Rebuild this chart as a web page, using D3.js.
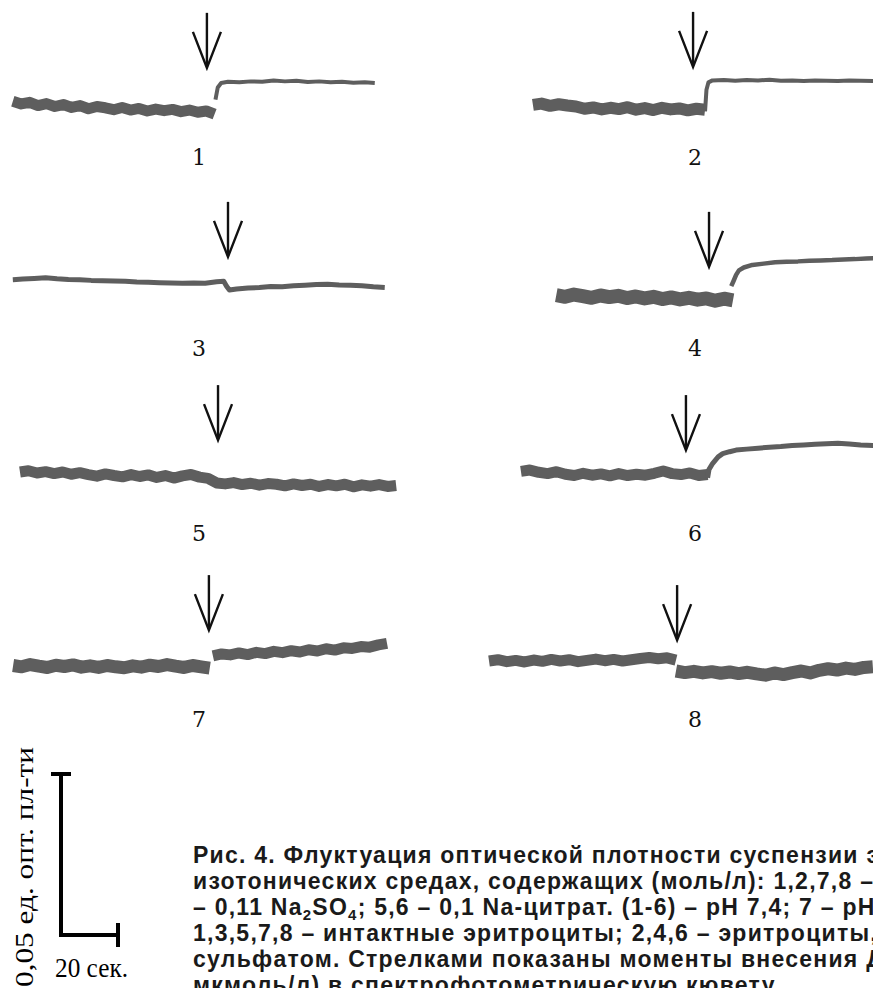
<!DOCTYPE html>
<html>
<head>
<meta charset="utf-8">
<script src="https://cdn.jsdelivr.net/npm/d3@7/dist/d3.min.js"></script>
<style>
  body { margin: 0; background: #fff; }
  svg { display: block; }
</style>
</head>
<body>
<div id="fig"></div>
<script>
// Рис. 4 - optical density traces, 8 panels + scale bar + caption

const width = 873,
    height = 988;

// time in s, optical density in units of 0.001
// noisy parts: start time, step, values
// smooth parts: [time, value] pairs
const tr1Before = {t0: 4.5, dt: 2.95, v: [8.9, 8.1, 8.6, 7.6, 8.2, 7.3, 7.9, 7.0, 7.6, 6.6, 7.3, 6.9, 6.3, 7.0, 6.2, 6.7, 5.9, 6.5, 6.0, 6.4, 5.7, 6.2, 5.5, 5.9, 4.9]};
const tr1After = [[75.6, 9.4], [76.4, 13.2], [77.6, 14.6], [80, 15.0], [84, 14.8], [88, 15.1], [92, 15.0], [96, 15.4], [100, 15.1], [104, 15.3], [108, 14.9], [112, 15.1], [116, 14.8], [120, 15.0], [124, 14.7], [128, 14.8], [131.5, 14.6]];

const tr2Before = {t0: 34, dt: 3.02, v: [7.8, 8.2, 7.5, 8.0, 7.6, 7.3, 6.6, 7.0, 6.4, 6.9, 6.5, 7.1, 6.3, 6.8, 6.2, 6.9, 6.4, 6.7, 6.1, 6.6, 6.3]};
const tr2After = [[94.4, 5.8], [94.9, 12.5], [95.6, 14.8], [97, 15.4], [101, 15.5], [105, 15.3], [109, 15.5], [113, 15.4], [117, 15.6], [121, 15.3], [125, 15.4], [129, 15.2], [133, 15.4], [137, 15.3], [141, 15.2], [145, 15.4], [149, 15.3], [153.5, 15.2]];

const tr3 = [[4.5, 9.4], [8, 9.6], [12, 9.8], [16, 10.0], [20, 9.7], [24, 9.5], [28, 9.4], [32, 9.2], [36, 9.1], [40, 9.0], [44, 8.9], [48, 8.7], [52, 8.6], [56, 8.5], [60, 8.4], [64, 8.3], [68, 8.4], [72, 8.3], [76, 8.8], [78.5, 8.9], [79.5, 7.4], [80.5, 6.2], [83, 6.5], [87, 6.8], [91, 7.0], [95, 7.3], [99, 7.2], [103, 7.5], [107, 7.7], [111, 7.9], [115, 8.0], [119, 7.8], [123, 7.7], [127, 7.5], [131, 7.2], [135, 7.0]];

const tr4Before = {t0: 42.2, dt: 3.1, v: [4.6, 4.1, 4.8, 4.3, 3.8, 4.5, 4.0, 4.4, 3.7, 4.2, 3.6, 4.1, 3.4, 3.9, 3.3, 3.8, 3.2, 3.6, 2.9, 3.5, 3.0]};
const tr4After = [[103.6, 7.4], [104.4, 9.0], [105.3, 10.9], [106.3, 12.3], [108, 13.2], [111, 14.0], [115, 14.4], [119, 14.8], [123, 15.0], [127, 15.1], [131, 15.3], [135, 15.4], [139, 15.5], [143, 15.7], [147, 15.8], [151, 16.0], [153.5, 16.1]];

const tr5 = {t0: 7, dt: 3, v: [8.7, 9.1, 8.4, 8.8, 8.2, 8.7, 8.0, 8.5, 7.9, 7.4, 8.1, 7.6, 7.2, 7.9, 7.3, 7.8, 7.0, 7.6, 6.8, 7.5, 7.9, 7.1, 6.7,
  5.3, 5.0, 5.4, 4.8, 5.2, 4.6, 5.1, 4.9, 4.4, 5.0, 4.5, 4.9, 4.2, 4.8, 4.4, 4.9, 4.1, 4.7, 4.3, 4.8, 4.2, 4.5]};

const tr6Before = {t0: 29.8, dt: 3.12, v: [8.9, 9.3, 8.6, 8.2, 8.8, 8.0, 7.6, 8.3, 7.7, 8.1, 7.5, 8.2, 7.6, 8.0, 7.7, 8.3, 9.0, 8.2, 7.9, 8.4, 7.6, 7.9]};
const tr6After = [[95.3, 6.9], [95.8, 9.5], [97.1, 11.4], [99, 13.4], [100.6, 14.4], [103, 15.0], [105.3, 15.5], [109, 15.8], [113, 16.1], [117, 16.4], [121, 16.6], [125, 16.9], [129, 17.1], [133, 17.3], [137, 17.5], [141, 17.6], [145, 17.4], [149, 17.1], [153.5, 16.9]];

const tr7Before = {t0: 4.6, dt: 3, v: [7.6, 7.2, 7.9, 7.4, 7.0, 7.7, 7.3, 7.8, 7.1, 7.5, 7.0, 7.6, 7.2, 6.9, 7.5, 7.1, 7.7, 7.3, 7.9, 7.4, 7.0, 7.6, 7.2, 6.8]};
const tr7After = {t0: 74.7, dt: 3.055, v: [10.6, 11.2, 10.9, 11.5, 11.0, 11.7, 11.3, 12.0, 11.6, 12.2, 11.8, 12.5, 12.1, 12.8, 12.4, 13.1, 12.9, 13.5, 13.3, 14.0, 14.5]};

const tr8Before = {t0: 18.6, dt: 3.124, v: [9.0, 9.4, 8.8, 9.2, 8.7, 9.3, 8.9, 9.5, 9.0, 9.4, 8.8, 9.2, 9.6, 9.1, 9.5, 9.0, 9.4, 9.8, 10.1, 9.7, 10.0, 9.3]};
const tr8After = {t0: 84.2, dt: 3.14, v: [5.9, 5.4, 5.8, 5.3, 5.7, 5.2, 5.6, 5.1, 5.5, 5.0, 4.6, 5.3, 4.8, 5.4, 5.9, 5.3, 6.1, 6.6, 6.2, 6.8, 6.4, 7.0, 7.2]};

const panelLabels = ["1", "2", "3", "4", "5", "6", "7", "8"];
// moments of DIDS addition, s
const arrowTimes = [72.6, 90.2, 80.0, 95.8, 76.5, 87.7, 73.3, 84.6];

// scale bar: 0.05 opt. density, 20 s
const barOD = 50,
    barTime = 20;

const traces = [
  [tr1Before, tr1After],
  [tr2Before, tr2After],
  [tr3],
  [tr4Before, tr4After],
  [tr5],
  [tr6Before, tr6After],
  [tr7Before, tr7After],
  [tr8Before, tr8After]
];

// --- layout / styles
const traceWidths = [[11, 4], [12, 4], [5], [14, 4.5], [11], [11, 5], [13, 11], [11, 13]];
const rowBase = [130, 310, 500, 690];
const colX = [0, 436];
const labelX = [199, 259];
const labelY = [165, 356, 541, 727];
const arrowTip = [19.3, 19.6, 16.5, 13.4, 18.6, 15.5, 18.6, 15.5];
const traceColor = "#5e5e5e";

// 20 s = 57 px, 0.05 = 161 px
const x = d3.scaleLinear().domain([0, 20]).range([0, 57]);
const y = d3.scaleLinear().domain([0, 50]).range([0, -161]);

const line = d3.line()
  .x(d => x(d[0]))
  .y(d => y(d[1]));

const toPoints = seg => Array.isArray(seg) ? seg : seg.v.map((v, i) => [seg.t0 + i * seg.dt, v]);

let svg = d3.select("#fig")
  .append("svg")
    .attr("width", width)
    .attr("height", height)
    .style("background", "#fff");

panelLabels.forEach((lab, i) => {
  const col = i % 2, row = Math.floor(i / 2);
  let g = svg.append("g")
    .attr("transform", `translate(${colX[col]}, ${rowBase[row]})`);

  traces[i].forEach((seg, k) => {
    g.append("path")
      .attr("d", line(toPoints(seg)))
      .attr("fill", "none")
      .attr("stroke", traceColor)
      .attr("stroke-width", traceWidths[i][k])
      .attr("stroke-linejoin", "round")
      .attr("stroke-linecap", "butt");
  });

  // arrow
  const ax = x(arrowTimes[i]), tip = y(arrowTip[i]);
  g.append("line")
    .attr("x1", ax).attr("x2", ax)
    .attr("y1", tip - 55).attr("y2", tip - 2)
    .attr("stroke", "#111")
    .attr("stroke-width", 2.4);
  g.append("path")
    .attr("d", `M${ax - 14},${tip - 36} L${ax},${tip} L${ax + 14},${tip - 36}`)
    .attr("fill", "none")
    .attr("stroke", "#111")
    .attr("stroke-width", 2.4)
    .attr("stroke-miterlimit", 20);

  svg.append("text")
    .attr("x", colX[col] + labelX[col])
    .attr("y", labelY[row])
    .attr("text-anchor", "middle")
    .style("font-family", "'DejaVu Serif', serif")
    .style("font-size", "22px")
    .attr("fill", "#111")
    .text(lab);
});

// scale bar
const bx = 61, by = 935;
let bar = svg.append("g").attr("stroke", "#000").attr("stroke-width", 4).attr("fill", "none");
bar.append("path")
  .attr("d", `M${bx},${by + y(barOD)} L${bx},${by} L${bx + x(barTime)},${by}`)
  .attr("stroke-linejoin", "miter");
bar.append("line")
  .attr("x1", bx - 10).attr("x2", bx + 10)
  .attr("y1", by + y(barOD)).attr("y2", by + y(barOD));
bar.append("line")
  .attr("x1", bx + x(barTime)).attr("x2", bx + x(barTime))
  .attr("y1", by - 12).attr("y2", by + 12);

svg.append("text")
  .attr("transform", "translate(33, 867) rotate(-90)")
  .attr("text-anchor", "middle")
  .attr("textLength", 240)
  .attr("lengthAdjust", "spacingAndGlyphs")
  .style("font-family", "'Liberation Serif', serif")
  .style("font-size", "25px")
  .text("0,05 ед. опт. пл-ти");

svg.append("text")
  .attr("x", 55)
  .attr("y", 977)
  .attr("textLength", 73)
  .attr("lengthAdjust", "spacingAndGlyphs")
  .style("font-family", "'Liberation Serif', serif")
  .style("font-size", "27px")
  .text("20 сек.");

// caption (clipped by the right and bottom edge, as in the source)
const captionLines = [
  ["Рис. 4. Флуктуация оптической плотности суспензии эритроцитов в"],
  ["изотонических средах, содержащих (моль/л): 1,2,7,8 – 0,15 NaCl; 3,4"],
  ["– 0,11 Na", {sub: "2"}, "SO", {sub: "4"}, "; 5,6 – 0,1 Na-цитрат. (1-6) – pH 7,4; 7 – pH 6,0;"],
  ["1,3,5,7,8 – интактные эритроциты; 2,4,6 – эритроциты, нагруженные"],
  ["сульфатом. Стрелками показаны моменты внесения ДИДС (10"],
  ["мкмоль/л) в спектрофотометрическую кювету."]
];

captionLines.forEach((parts, i) => {
  let t = svg.append("text")
    .attr("x", 193)
    .attr("y", 863 + i * 26)
    .style("font-family", "'Liberation Sans', Arial, sans-serif")
    .style("font-weight", "bold")
    .style("font-size", "23px")
    .style("letter-spacing", "1.25px")
    .attr("fill", "#1a1a1a");
  let shifted = false;
  parts.forEach(p => {
    if (typeof p === "string") {
      t.append("tspan").attr("dy", shifted ? -5 : 0).text(p);
      shifted = false;
    } else {
      t.append("tspan").attr("dy", 5).style("font-size", "15px").text(p.sub);
      shifted = true;
    }
  });
});
</script>
</body>
</html>
